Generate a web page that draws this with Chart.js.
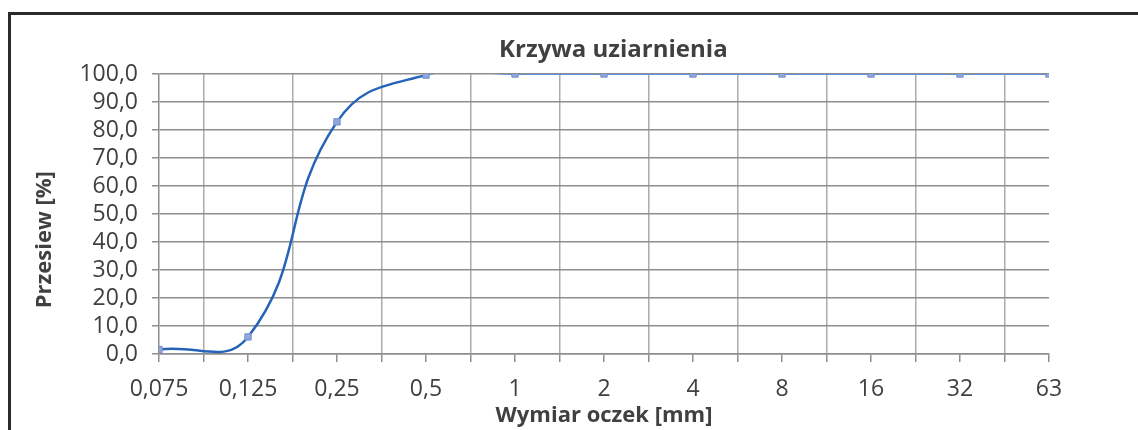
<!DOCTYPE html>
<html lang="pl">
<head>
    <meta charset="UTF-8">
    <title>Krzywa uziarnienia</title>
    <script src="https://cdn.jsdelivr.net/npm/chart.js"></script>
    <style>
        html, body {
            margin: 0;
            padding: 0;
            background: #fff;
        }
        .wrap {
            position: relative;
            width: 1138px;
            height: 430px;
            overflow: hidden;
        }
        .frame {
            position: absolute;
            left: 8px;
            top: 12px;
            width: 1200px;
            height: 500px;
            border-left: 3px solid #2b2b2b;
            border-top: 3px solid #2b2b2b;
            pointer-events: none;
        }
        canvas {
            position: absolute;
            left: 0;
            top: 0;
        }
    </style>
</head>
<body>
    <div class="wrap">
        <canvas id="sieveChart" width="1138" height="430"></canvas>
        <div class="frame"></div>
    </div>

    <script>
        // sieve sizes [mm] and passing percentage
        const sieveSizes = ['0,075', '0,125', '0,25', '0,5', '1', '2', '4', '8', '16', '32', '63'];
        const passing = [1.6, 6.1, 82.9, 99.6, 100, 100, 100, 100, 100, 100, 100];
        const yTicks = [0, 10, 20, 30, 40, 50, 60, 70, 80, 90, 100];

        const hGrid = '#8e8e8e';
        const vGrid = '#ababab';
        const textGray = '#404040';
        const font = 'Open Sans';

        const points = passing.map((v, i) => ({ x: i, y: v }));

        new Chart(document.getElementById('sieveChart'), {
            type: 'line',
            data: {
                datasets: [{
                    label: 'Przesiew',
                    data: points,
                    borderColor: '#2563b8',
                    borderWidth: 2.5,
                    tension: 0.45,
                    pointStyle: 'rect',
                    pointRadius: 4.5,
                    pointBackgroundColor: '#8ea6dc',
                    pointBorderColor: '#7891cf',
                    pointBorderWidth: 1,
                    segment: {
                        // flat part of the curve is drawn thinner and lighter in the original
                        borderColor: c => c.p0.parsed.y >= 99.5 ? '#5f93da' : undefined,
                        borderWidth: c => c.p0.parsed.y >= 99.5 ? 2 : undefined
                    }
                }]
            },
            options: {
                responsive: false,
                animation: false,
                elements: { line: { capBezierPoints: false } },
                layout: {
                    padding: { left: 0, right: 89, top: 0, bottom: 0 }
                },
                plugins: {
                    legend: { display: false },
                    tooltip: { enabled: false },
                    title: {
                        display: true,
                        fullSize: false,
                        text: '   Krzywa uziarnienia',
                        color: textGray,
                        font: { family: font, size: 24, weight: 'bold', lineHeight: 1.2 },
                        padding: { top: 35.6, bottom: 9.6 }
                    }
                },
                scales: {
                    x: {
                        type: 'linear',
                        min: 0,
                        max: sieveSizes.length - 1,
                        afterFit: s => { s.height = 76; },
                        afterBuildTicks: s => {
                            s.ticks = [];
                            for (let i = 0; i <= (sieveSizes.length - 1) * 2; i++) s.ticks.push({ value: i / 2 });
                        },
                        border: { color: hGrid, width: 1.5 },
                        grid: {
                            color: c => (c.tick && c.tick.value % 1 !== 0) ? vGrid : 'rgba(0,0,0,0)',
                            lineWidth: 1.5,
                            tickColor: hGrid,
                            tickLength: 8
                        },
                        ticks: {
                            autoSkip: false,
                            maxRotation: 0,
                            padding: 14,
                            color: textGray,
                            font: { family: font, size: 23 },
                            callback: v => Number.isInteger(v) ? sieveSizes[v] : ''
                        },
                        title: {
                            display: true,
                            text: 'Wymiar oczek [mm]',
                            color: textGray,
                            font: { family: font, size: 22, weight: 'bold', lineHeight: 1.2 },
                            padding: { top: 0, bottom: 1 }
                        }
                    },
                    y: {
                        min: 0,
                        max: 100,
                        afterFit: s => { s.width = 159; },
                        afterBuildTicks: s => { s.ticks = yTicks.map(v => ({ value: v })); },
                        border: { color: hGrid, width: 1.5 },
                        grid: {
                            color: hGrid,
                            lineWidth: 1.5,
                            tickLength: 7
                        },
                        ticks: {
                            autoSkip: false,
                            padding: 14,
                            color: textGray,
                            font: { family: font, size: 23 },
                            callback: v => v.toFixed(1).replace('.', ',')
                        },
                        title: {
                            display: true,
                            // trailing spaces push the title down, as in the original
                            text: 'Przesiew [%]' + ' '.repeat(9),
                            color: textGray,
                            font: { family: font, size: 22, weight: 'bold', lineHeight: 1.2 },
                            padding: { top: 31.8, bottom: 0 }
                        }
                    }
                }
            }
        });
    </script>
</body>
</html>
